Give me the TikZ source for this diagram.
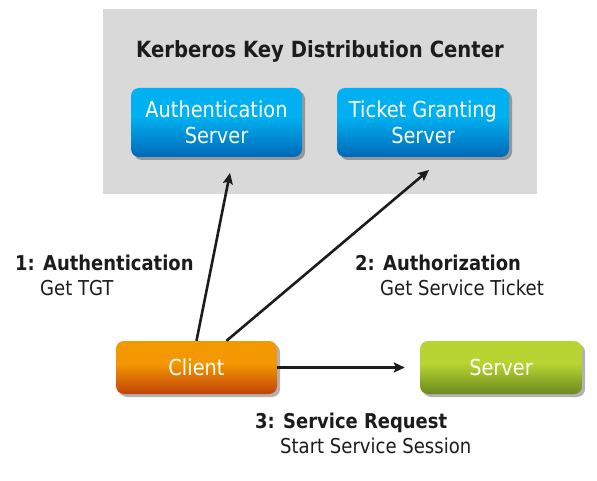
\documentclass[tikz,border=0pt]{standalone}
\usepackage{fontspec}
\setmainfont{DejaVu Sans}[FakeStretch=0.88]
\usetikzlibrary{arrows.meta,shadows}
\definecolor{kdcgray}{HTML}{D9D9D9}
\definecolor{bluetop}{HTML}{00B0F0}
\definecolor{bluebot}{HTML}{0068B8}
\definecolor{orangetop}{HTML}{F39800}
\definecolor{orangebot}{HTML}{C2420C}
\definecolor{greentop}{HTML}{B8D432}
\definecolor{greenbot}{HTML}{6A8A1E}
\definecolor{inkcol}{HTML}{1C1C1C}
\pgfdeclareverticalshading{blueshade}{100bp}{color(0bp)=(bluebot); color(25bp)=(bluebot); color(54bp)=(bluetop); color(75bp)=(bluetop); color(100bp)=(bluetop)}
\pgfdeclareverticalshading{orangeshade}{100bp}{color(0bp)=(orangebot); color(25bp)=(orangebot); color(54bp)=(orangetop); color(75bp)=(orangetop); color(100bp)=(orangetop)}
\pgfdeclareverticalshading{greenshade}{100bp}{color(0bp)=(greenbot); color(25bp)=(greenbot); color(54bp)=(greentop); color(75bp)=(greentop); color(100bp)=(greentop)}
\begin{document}
\begin{tikzpicture}[x=1pt,y=-1pt,
  box/.style={rectangle, rounded corners=8pt, text=white, align=center,
    font=\fontsize{22}{26}\selectfont, inner sep=0pt,
    drop shadow={shadow xshift=3pt, shadow yshift=-3pt, opacity=0.3, fill=black}},
  kdcbox/.style={box, shading=blueshade, minimum width=171pt, minimum height=69pt},
  endbox/.style={box, minimum width=161pt, minimum height=53pt},
  steplabel/.style={anchor=base west, inner sep=0pt, text=inkcol, font=\fontsize{20.4}{24}\selectfont\bfseries},
  subl/.style={anchor=base west, inner sep=0pt, text=inkcol, font=\fontsize{20.5}{24}\selectfont},
  arr/.style={draw=inkcol, line width=2.6pt, -{Stealth[length=11pt,width=10pt,inset=2pt]}}
]
\useasboundingbox (0,0) rectangle (597,481);
\fill[white] (0,0) rectangle (597,481);
\fill[kdcgray] (103,9) rectangle (537,194);
\node[anchor=base, inner sep=0pt, text=inkcol, font=\fontsize{22.3}{26}\selectfont\bfseries] (title) at (320,58) {Kerberos Key Distribution Center};
\node[kdcbox] (as) at (216.5,122.5) {Authentication\\Server};
\node[kdcbox, minimum width=172pt] (tgs) at (423,122.5) {Ticket Granting\\Server};
\node[endbox, shading=orangeshade] (client) at (196.5,367.5) {Client};
\node[endbox, shading=greenshade, minimum width=162pt] (server) at (501,367.5) {Server};
\coordinate (asend) at (230,173);
\coordinate (tgsend) at (429,170);
\draw[arr] (client.north) -- (asend);
\draw[arr] ([xshift=30pt]client.north) -- (tgsend);
\draw[arr, shorten >=15pt] (client.east) -- (server.west);
\node[steplabel] (l1a) at (15,270) {1: Authentication};
\node[subl] (l1b) at (40,295) {Get TGT};
\node[steplabel] (l2a) at (355,270) {2: Authorization};
\node[subl] (l2b) at (380,295) {Get Service Ticket};
\node[steplabel] (l3a) at (255,428) {3: Service Request};
\node[subl] (l3b) at (280,453) {Start Service Session};
\end{tikzpicture}
\end{document}
